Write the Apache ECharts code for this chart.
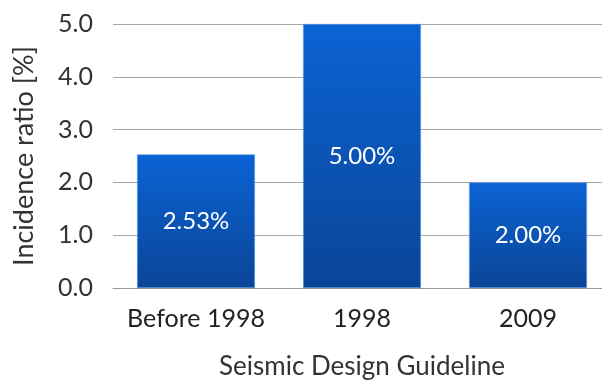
<!DOCTYPE html>
<html>
<head>
<meta charset="utf-8">
<script src="https://cdn.jsdelivr.net/npm/echarts@6/dist/echarts.min.js"></script>
<style>
html,body{margin:0;padding:0;background:#fff;overflow:hidden;}
#chart{width:602px;height:385px;}
</style>
</head>
<body>
<div id="chart"></div>
<script>
// Incidence ratio by seismic design guideline
const categories = ['Before 1998', '1998', '2009'];
const incidence = [2.53, 5.00, 2.00];
const yTicks = [0, 1, 2, 3, 4, 5];

const chart = echarts.init(document.getElementById('chart'), null, {renderer: 'canvas'});
const font = 'Lato, "Open Sans", sans-serif';

chart.setOption({
  animation: false,
  backgroundColor: '#ffffff',
  // plot runs slightly past the right edge of the canvas
  grid: {left: 113, width: 498, top: 24, bottom: 97, outerBoundsMode: 'none', containLabel: false},
  xAxis: {
    type: 'category',
    data: categories,
    name: 'Seismic Design Guideline',
    nameLocation: 'middle',
    nameGap: 66,
    nameTextStyle: {fontFamily: font, fontSize: 26, color: '#333'},
    axisLine: {lineStyle: {color: '#999', width: 1}},
    axisTick: {show: false},
    axisLabel: {fontFamily: font, fontSize: 25, color: '#222', margin: 18, interval: 0}
  },
  yAxis: {
    type: 'value',
    min: yTicks[0],
    max: yTicks[yTicks.length - 1],
    interval: 1,
    name: 'Incidence ratio [%]',
    nameLocation: 'middle',
    nameGap: 75,
    nameTextStyle: {fontFamily: font, fontSize: 27, color: '#333'},
    axisLine: {show: false},
    axisTick: {show: false},
    axisLabel: {
      fontFamily: font, fontSize: 25, color: '#333', margin: 20,
      formatter: v => v.toFixed(1)
    },
    splitLine: {lineStyle: {color: '#a8a8a8', width: 1}}
  },
  series: [{
    type: 'bar',
    data: incidence,
    barCategoryGap: '29%',
    itemStyle: {
      color: new echarts.graphic.LinearGradient(0, 0, 0, 1, [
        {offset: 0, color: '#0b63d4'},
        {offset: 1, color: '#0a4597'}
      ]),
      borderColor: '#5a9ae6',
      borderWidth: 0.6
    },
    label: {
      show: true,
      position: 'inside',
      fontFamily: font,
      fontSize: 24,
      color: '#ffffff',
      formatter: p => p.value.toFixed(2) + '%'
    }
  }]
});
</script>
</body>
</html>
